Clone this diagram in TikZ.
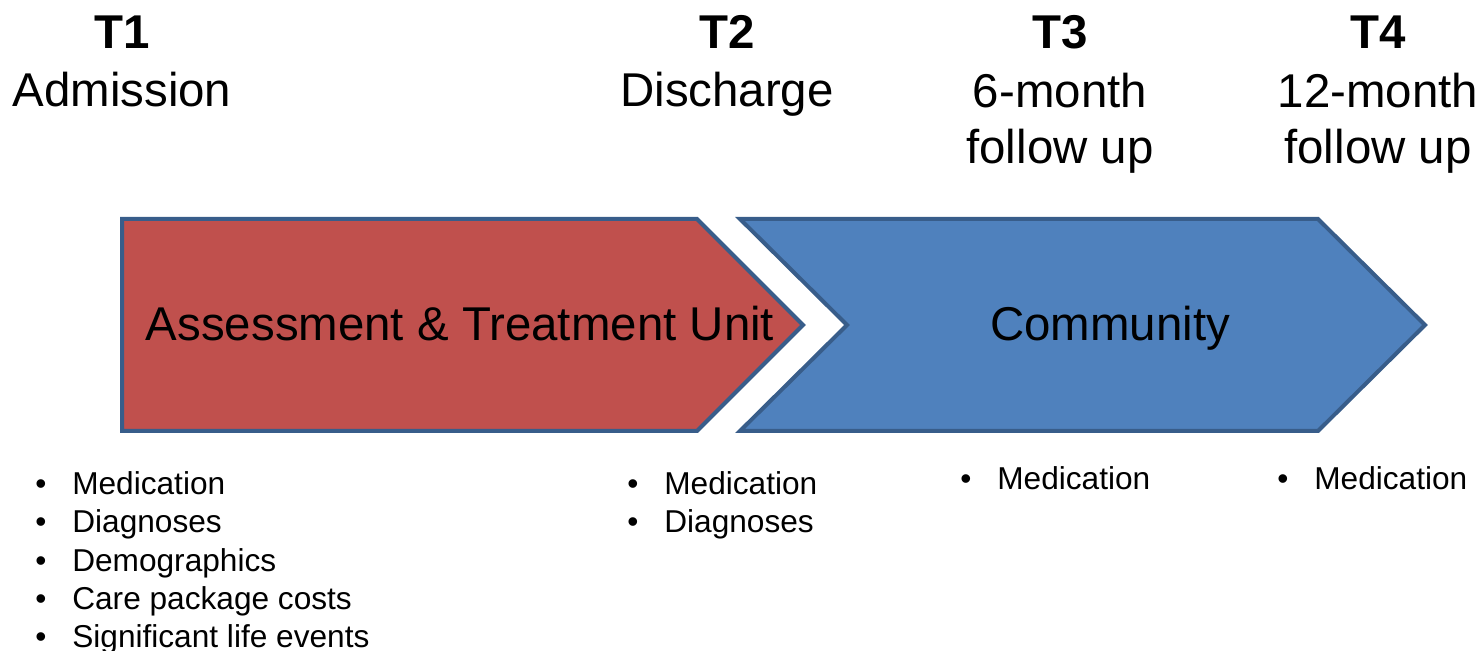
\documentclass[tikz,border=0pt]{standalone}
\usepackage{fontspec}
\setmainfont{Liberation Sans}
\usetikzlibrary{positioning}
\definecolor{unitred}{HTML}{C0504D}
\definecolor{commblue}{HTML}{4F81BD}
\definecolor{edgeblue}{HTML}{385D8A}
\newcommand{\bitem}[1]{\makebox[0.74cm][l]{\textbullet}#1}
\begin{document}
\begin{tikzpicture}[x=0.02cm, y=-0.02cm, every node/.style={inner sep=0pt, font=\fontsize{27}{32.4}\selectfont}, align=center]
  \useasboundingbox (0,0) rectangle (1482,651);

  \draw [fill=unitred, draw=edgeblue, line width=0.08cm, line join=miter]
    (122,219) -- (697,219) -- (803,325) -- (697,431) -- (122,431) -- cycle;
  \draw [fill=commblue, draw=edgeblue, line width=0.08cm, line join=miter]
    (740,219) -- (1318,219) -- (1425,325) -- (1318,431) -- (740,431) -- (847,325) -- cycle;

  \node (atu) [anchor=base] at (460,341) {Assessment \& Treatment Unit};
  \node (community) [anchor=base] at (1110,341) {Community};

  \node (t1) [anchor=base, font=\fontsize{27}{32.4}\selectfont\bfseries] at (122,49) {T1};
  \node (t1_lab) [anchor=base] at (122,107) {Admission};
  \node (t2) [anchor=base, font=\fontsize{27}{32.4}\selectfont\bfseries] at (727,49) {T2};
  \node (t2_lab) [anchor=base] at (727,107) {Discharge};
  \node (t3) [anchor=base, font=\fontsize{27}{32.4}\selectfont\bfseries] at (1060,49) {T3};
  \node (t3_lab) [anchor=base] at (1060,164) {6-month\\follow up};
  \node (t4) [anchor=base, font=\fontsize{27}{32.4}\selectfont\bfseries] at (1378,49) {T4};
  \node (t4_lab) [anchor=base] at (1378,164) {12-month\\follow up};

  \node (t1_items) [anchor=base west, align=left, font=\fontsize{18}{21.9}\selectfont] at (35,648)
    {\bitem{Medication}\\\bitem{Diagnoses}\\\bitem{Demographics}\\\bitem{Care package costs}\\\bitem{Significant life events}};
  \node (t2_items) [anchor=base west, align=left, font=\fontsize{18}{21.9}\selectfont] at (627,533)
    {\bitem{Medication}\\\bitem{Diagnoses}};
  \node (t3_items) [anchor=base west, align=left, font=\fontsize{18}{21.9}\selectfont] at (960,490)
    {\bitem{Medication}};
  \node (t4_items) [anchor=base west, align=left, font=\fontsize{18}{21.9}\selectfont] at (1277,490)
    {\bitem{Medication}};
\end{tikzpicture}
\end{document}
